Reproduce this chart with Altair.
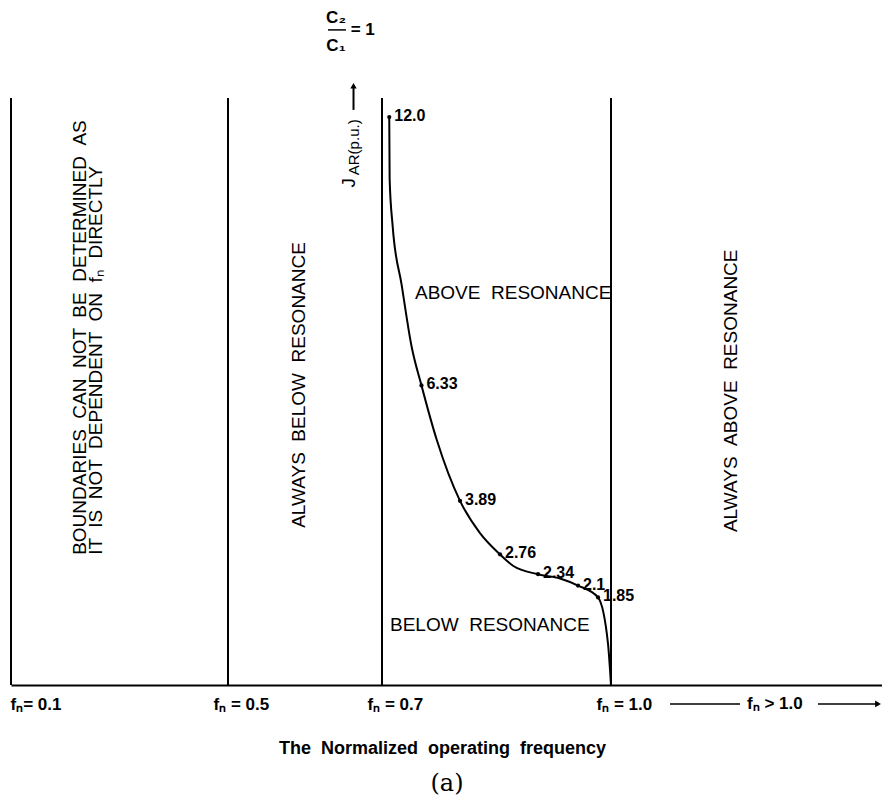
import altair as alt
import pandas as pd

FONT = "Liberation Sans"
GAP = " \u00a0"  # wide word gap that survives SVG whitespace collapsing

# Region boundaries on the normalized-frequency axis
boundary_fn = [0.1, 0.5, 0.7, 1.0]
boundary_top = [12.4, 12.4, 12.4, 12.4]
boundary_bottom = [0.0, 0.0, 0.0, 0.0]

# Axis tick positions (normalized operating frequency)
tick_fn = [0.1, 0.5, 0.7, 1.0]

# Resonance boundary for C2/C1 = 1 : frequency vs J_AR (p.u.)
curve_fn = [0.7095, 0.7100, 0.7140, 0.7258, 0.7389, 0.7517, 0.7717, 0.8022,
            0.8284, 0.8546, 0.8716, 0.9044, 0.9332, 0.9568, 0.9830, 0.9961, 1.0]
curve_j = [12.0, 10.69, 9.69, 8.45, 7.14, 6.33, 5.18, 3.89,
           3.21, 2.76, 2.52, 2.34, 2.25, 2.1, 1.85, 0.87, 0.0]
curve_label = ["12.0", "", "", "", "", "6.33", "", "3.89",
               "", "2.76", "", "2.34", "", "2.1", "1.85", "", ""]

# Vertical region captions
vert_words = [["BOUNDARIES", "CAN", "NOT", "BE", "DETERMINED", "AS"],
              ["IT", "IS", "NOT", "DEPENDENT", "ON", "f\u2099", "DIRECTLY"],
              ["ALWAYS", "BELOW", "RESONANCE"],
              ["ALWAYS", "ABOVE", "RESONANCE"]]
vert_fn = [0.2272, 0.2567, 0.5922, 1.1572]
vert_j = [2.75, 2.75, 3.32, 3.23]

# Horizontal region captions either side of the curve
horiz_words = [["ABOVE", "RESONANCE"], ["BELOW", "RESONANCE"]]
horiz_fn = [0.7432, 0.7105]
horiz_j = [8.28, 1.27]

# Parameter note C2/C1 = 1
frac_text = ["C\u2082", "C\u2081", "= 1"]
frac_fn = [0.6403, 0.6403, 0.6750]
frac_j = [14.09, 13.50, 13.84]
frac_bar_fn = [0.6299]
frac_bar_fn2 = [0.6532]
frac_bar_j = [13.84]

# J_AR axis caption and its arrow
jar_text = ["J", "AR(p.u.)"]
jar_fn = [0.6565, 0.6640]
jar_j = [10.61, 11.36]
jar_size = [19, 15]
jar_arrow_fn = [0.6630]
jar_arrow_j = [12.15]
jar_arrow_j2 = [12.66]

# "f_n > 1.0" continuation along the frequency axis
row_j = -0.40
dash_fn = [1.0773, 1.2712]
dash_fn2 = [1.1690, 1.3498]
gt_text = ["f\u2099 > 1.0"]
gt_fn = [1.1782]

x_scale = alt.Scale(domain=[0.1, 0.5, 0.7, 1.0, 1.355],
                    range=[11, 228, 382, 611, 882], nice=False, zero=False)
y_scale = alt.Scale(domain=[0, 12], range=[685, 117], nice=False, zero=False)

x_axis = alt.Axis(
    values=tick_fn,
    labelExpr="datum.value < 0.2 ? 'f\u2099= 0.1' : 'f\u2099 = ' + format(datum.value, '.1f')",
    ticks=False, tickSize=0, grid=False,
    domainColor="black", domainWidth=2,
    labelFont=FONT, labelFontSize=17, labelFontWeight="bold", labelColor="black",
    labelAlign="left", labelBaseline="middle", labelPadding=19,
    labelOffset={"condition": {"test": "datum.value < 0.2", "value": -1}, "value": -15},
    labelOverlap=False, labelFlush=False, labelBound=False,
    title="The" + GAP + "Normalized" + GAP + "operating" + GAP + "frequency",
    titleFont=FONT, titleFontSize=18, titleFontWeight="bold", titleColor="black",
    titleX=442, titleY=63, titleAlign="center", titleBaseline="middle", titleAngle=0,
)


def X(field):
    return alt.X(field, type="quantitative", scale=x_scale, axis=x_axis)


def Y(field):
    return alt.Y(field, type="quantitative", scale=y_scale, axis=None)


bound_df = pd.DataFrame({"fn": boundary_fn, "top": boundary_top, "bottom": boundary_bottom})
curve_df = pd.DataFrame({"fn": curve_fn, "j": curve_j, "label": curve_label})
vert_df = pd.DataFrame({"fn": vert_fn, "j": vert_j,
                        "text": [GAP.join(w) for w in vert_words]})
horiz_df = pd.DataFrame({"fn": horiz_fn, "j": horiz_j,
                         "text": [GAP.join(w) for w in horiz_words]})
frac_df = pd.DataFrame({"fn": frac_fn, "j": frac_j, "text": frac_text})
frac_bar_df = pd.DataFrame({"fn": frac_bar_fn, "fn2": frac_bar_fn2, "j": frac_bar_j})
jar_df = pd.DataFrame({"fn": jar_fn, "j": jar_j, "text": jar_text, "size": jar_size})
jar_arrow_df = pd.DataFrame({"fn": jar_arrow_fn, "j": jar_arrow_j, "j2": jar_arrow_j2})
dash_df = pd.DataFrame({"fn": dash_fn, "fn2": dash_fn2, "j": [row_j, row_j]})
gt_df = pd.DataFrame({"fn": gt_fn, "j": [row_j], "text": gt_text})

boundaries = alt.Chart(bound_df).mark_rule(color="black", strokeWidth=2).encode(
    x=X("fn"), y=Y("top"), y2="bottom")

curve = alt.Chart(curve_df).mark_line(
    color="black", strokeWidth=2, interpolate="monotone").encode(x=X("fn"), y=Y("j"))

dots = alt.Chart(curve_df).transform_filter("datum.label != ''").mark_point(
    filled=True, color="black", size=18, opacity=1).encode(x=X("fn"), y=Y("j"))

point_labels = alt.Chart(curve_df).transform_filter("datum.label != ''").mark_text(
    align="left", baseline="middle", dx=5, dy=-1, font=FONT, fontSize=16,
    fontWeight="bold", color="black").encode(x=X("fn"), y=Y("j"), text="label:N")

vert_labels = alt.Chart(vert_df).mark_text(
    angle=270, align="left", baseline="middle", font=FONT, fontSize=19,
    color="black").encode(x=X("fn"), y=Y("j"), text="text:N")

horiz_labels = alt.Chart(horiz_df).mark_text(
    align="left", baseline="middle", font=FONT, fontSize=19,
    color="black").encode(x=X("fn"), y=Y("j"), text="text:N")

frac_labels = alt.Chart(frac_df).mark_text(
    align="center", baseline="middle", font=FONT, fontSize=17, fontWeight="bold",
    color="black").encode(x=X("fn"), y=Y("j"), text="text:N")

frac_bar = alt.Chart(frac_bar_df).mark_rule(color="black", strokeWidth=1.5).encode(
    x=X("fn"), x2="fn2", y=Y("j"))

jar_labels = alt.Chart(jar_df).mark_text(
    angle=270, align="center", baseline="middle", font=FONT,
    color="black").encode(x=X("fn"), y=Y("j"), text="text:N",
                          size=alt.Size("size:Q", scale=None, legend=None))

jar_arrow = alt.Chart(jar_arrow_df).mark_rule(color="black", strokeWidth=2).encode(
    x=X("fn"), y=Y("j"), y2="j2")

jar_head = alt.Chart(jar_arrow_df).mark_point(
    shape="triangle-up", filled=True, color="black", size=40, opacity=1).encode(
    x=X("fn"), y=Y("j2"))

dashes = alt.Chart(dash_df).mark_rule(color="black", strokeWidth=1.5).encode(
    x=X("fn"), x2="fn2", y=Y("j"))

dash_head = alt.Chart(dash_df).transform_filter("datum.fn > 1.2").mark_point(
    shape="triangle-right", filled=True, color="black", size=45, opacity=1).encode(
    x=X("fn2"), y=Y("j"))

gt_label = alt.Chart(gt_df).mark_text(
    align="left", baseline="middle", font=FONT, fontSize=17, fontWeight="bold",
    color="black").encode(x=X("fn"), y=Y("j"), text="text:N")

chart = alt.layer(
    boundaries, curve, dots, point_labels, vert_labels, horiz_labels,
    frac_labels, frac_bar, jar_labels, jar_arrow, jar_head,
    dashes, dash_head, gt_label,
).properties(
    width=882, height=685,
    autosize=alt.AutoSizeParams(type="none"),
    padding={"left": 0, "top": 0, "right": 0, "bottom": 112},
    background="white",
    title=alt.TitleParams("(a)", orient="bottom", anchor="middle", font="DejaVu Serif",
                          fontSize=24, fontWeight="normal", color="black", offset=15, dx=6),
).configure_view(stroke=None)

chart.save("out.html", embed_options={"renderer": "svg", "actions": False})
